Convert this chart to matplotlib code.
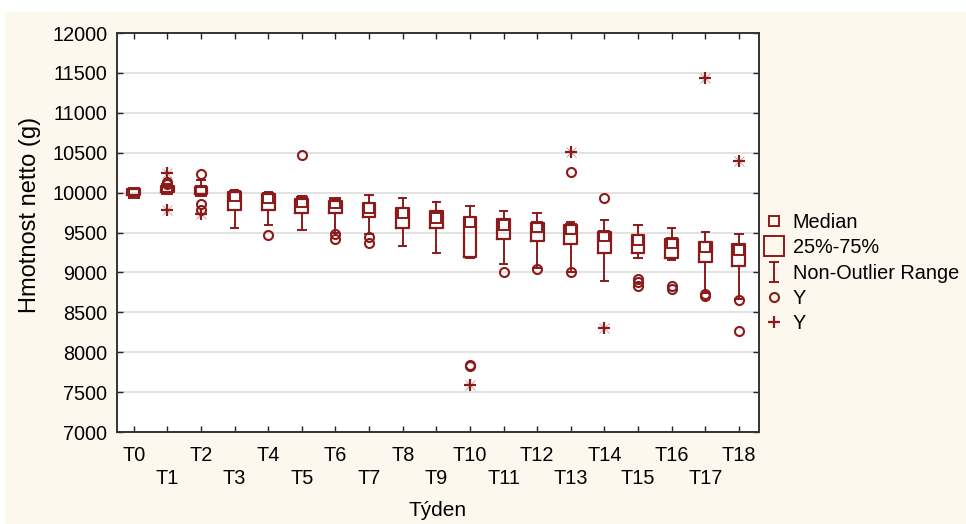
import numpy as np
import matplotlib.pyplot as plt
from matplotlib.lines import Line2D
from matplotlib.path import Path
from matplotlib.patches import Rectangle

plt.rcParams["font.family"] = ["Liberation Sans", "DejaVu Sans"]

weeks = [f"T{i}" for i in range(19)]
whislo = [9960, 10000, 9960, 9555, 9593, 9534, 9500, 9479, 9333, 9249,
          9180, 9103, 9060, 9000, 8894, 9186, 9152, 8748, 8664]
q1 = [9965, 10010, 9983, 9786, 9782, 9744, 9744, 9699, 9562, 9562,
      9187, 9416, 9395, 9360, 9240, 9240, 9186, 9131, 9081]
med = [10000, 10050, 10025, 9954, 9933, 9887, 9870, 9812, 9749, 9687,
       9633, 9591, 9570, 9540, 9457, 9407, 9365, 9323, 9277]
q3 = [10040, 10080, 10067, 10004, 9983, 9920, 9899, 9866, 9804, 9770,
      9699, 9666, 9624, 9594, 9507, 9465, 9424, 9382, 9361]
whishi = [10045, 10090, 10164, 10034, 10004, 9954, 9920, 9970, 9929, 9883,
          9833, 9770, 9741, 9632, 9653, 9590, 9553, 9507, 9478]
outliers = [[], [10110, 10137], [10227, 9857, 9786], [], [9467], [10475],
            [9479, 9416], [9445, 9374], [], [], [7830, 7845], [9007], [9040],
            [10262, 9000], [9928], [8923, 8881, 8831], [8831, 8790],
            [8735, 8698], [8656, 8268]]
extremes = [[], [10246, 9780], [9731], [], [], [], [], [], [], [],
            [7590], [], [], [10508], [8297], [], [], [11440], [10395]]

red = "#8b1a1a"
fs = 14.3

fig = plt.figure(figsize=(9.66, 5.24), dpi=100)
fig.patch.set_facecolor("white")
fig.patches.append(Rectangle((5 / 966, 0), 1, 1 - 12 / 524, transform=fig.transFigure,
                             facecolor="#fdf8ee", edgecolor="none", zorder=-10))
ax = fig.add_axes([117 / 966, 92 / 524, 642 / 966, 399 / 524])
ax.set_facecolor("white")

x = np.arange(len(weeks))
stats = [dict(whislo=a, q1=b, med=c, q3=d, whishi=e, fliers=[])
         for a, b, c, d, e in zip(whislo, q1, med, q3, whishi)]
ax.bxp(stats, positions=x, widths=0.38, showfliers=False, patch_artist=False,
       boxprops=dict(color=red, linewidth=1.6),
       whiskerprops=dict(color=red, linewidth=1.4),
       capprops=dict(color=red, linewidth=1.4),
       medianprops=dict(linewidth=0), capwidths=0.22, zorder=3)
ax.plot(x, med, ls="none", marker="s", ms=6.5, mfc="none", mec=red, mew=1.4, zorder=4)
for i in x:
    if outliers[i]:
        ax.plot([i] * len(outliers[i]), outliers[i], ls="none", marker="o", ms=6.5,
                mfc="none", mec=red, mew=1.5, zorder=4)
    if extremes[i]:
        ax.plot([i] * len(extremes[i]), extremes[i], ls="none", marker="+", ms=8,
                mec=red, mew=1.6, zorder=4)
        ax.plot([i] * len(extremes[i]), extremes[i], ls="none", marker="x", ms=7,
                mec=red, mew=0.6, alpha=0.45, zorder=4)

ax.set_xlim(-0.5, 18.6)
ax.set_ylim(7000, 12000)
ax.set_yticks(np.arange(7000, 12001, 500))
ax.set_xticks(x)
ax.set_xticklabels([w if i % 2 == 0 else "\n" + w for i, w in enumerate(weeks)],
                   linespacing=1.3)
ax.grid(axis="y", color="#dadada", linewidth=1.1, zorder=0)
ax.set_axisbelow(True)
ax.tick_params(direction="in", length=4, width=1, top=True, right=True,
               labelsize=fs, colors="#222222")
ax.tick_params(axis="x", labelcolor="black", pad=10)
ax.tick_params(axis="y", labelcolor="black", pad=7)
for s in ax.spines.values():
    s.set_linewidth(1.4)
    s.set_color("#333333")

ax.set_xlabel("Týden", fontsize=15, labelpad=9)
ax.set_ylabel("Hmotnost netto (g)", fontsize=17)
ax.yaxis.set_label_coords(-0.118, 0.545)

whisk = Path([(-0.5, 1), (0.5, 1), (0, 1), (0, -1), (-0.5, -1), (0.5, -1)],
             [Path.MOVETO, Path.LINETO, Path.MOVETO, Path.LINETO, Path.MOVETO, Path.LINETO])
handles = [
    Line2D([], [], ls="none", marker="s", ms=6.5, mfc="none", mec=red, mew=1.4),
    Line2D([], [], ls="none", marker="s", ms=14, mfc="none", mec=red, mew=1.4),
    Line2D([], [], ls="none", marker=whisk, ms=15, mec=red, mew=1.4),
    Line2D([], [], ls="none", marker="o", ms=6.5, mfc="none", mec=red, mew=1.5),
    Line2D([], [], ls="none", marker="+", ms=8, mec=red, mew=1.6),
]
labels = ["Median", "25%-75%", "Non-Outlier Range", "Y", "Y"]
fig.legend(handles, labels, loc="upper left", bbox_to_anchor=(764 / 966, 1 - 213 / 524),
           frameon=False, fontsize=fs, handlelength=1.0, handletextpad=0.45,
           labelspacing=0.32, borderpad=0, borderaxespad=0)

fig.savefig("out.png", dpi=100, facecolor=fig.get_facecolor())
